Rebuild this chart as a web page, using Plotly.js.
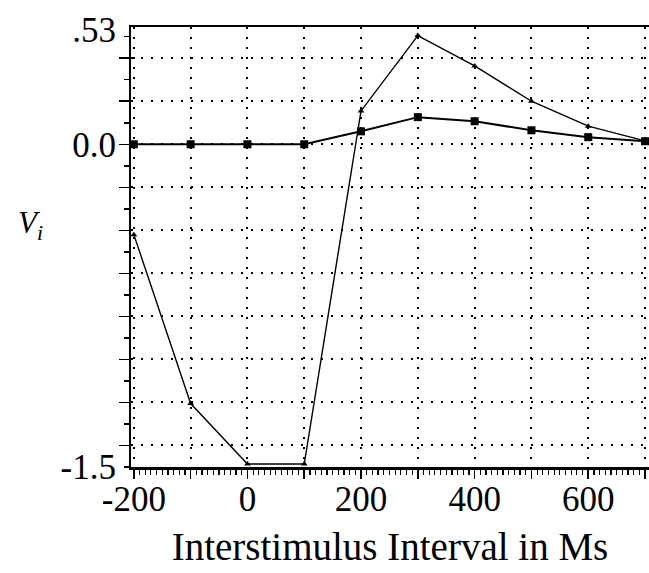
<!DOCTYPE html>
<html>
<head>
<meta charset="utf-8">
<script src="https://cdn.plot.ly/plotly-3.0.1.min.js"></script>
<style>
html,body{margin:0;padding:0;background:#fff;}
#chart{width:649px;height:573px;}
</style>
</head>
<body>
<div id="chart"></div>
<script>
// Interstimulus interval (ms)
const intervals = [-200, -100, 0, 100, 200, 300, 400, 500, 600, 700];
// Series with square markers
const squareSeries = [0.0, 0.0, 0.0, 0.0, 0.06, 0.126, 0.107, 0.065, 0.033, 0.014];
// Series with triangle markers
const triangleSeries = [-0.42, -1.205, -1.486, -1.486, 0.155, 0.505, 0.364, 0.20, 0.084, 0.016];
// Tick labels
const xGridVals = [-200, -100, 0, 100, 200, 300, 400, 500, 600, 700];
const xLabelVals = [-200, 0, 200, 400, 600];
const xLabelText = ['-200', '0', '200', '400', '600'];
const yLabelVals = [-1.5, 0, 0.53];
const yLabelText = ['-1.5', '0.0', '.53'];
const xTitle = 'Interstimulus Interval in Ms';
const yTitle = '<i>V</i><sub><i>i</i></sub>';

const FONT = 'Liberation Serif';

const traces = [
  {
    x: intervals, y: triangleSeries, type: 'scatter', mode: 'lines+markers',
    line: {color: '#000', width: 1.4},
    marker: {symbol: 'triangle-up', size: 6, color: '#000'},
    cliponaxis: false, showlegend: false, hoverinfo: 'skip'
  },
  {
    x: intervals, y: squareSeries, type: 'scatter', mode: 'lines+markers',
    line: {color: '#000', width: 2},
    marker: {symbol: 'square', size: 8, color: '#000'},
    cliponaxis: false, showlegend: false, hoverinfo: 'skip'
  },
  {
    x: [], y: [], xaxis: 'x2', yaxis: 'y2', type: 'scatter', mode: 'markers',
    showlegend: false, hoverinfo: 'skip'
  }
];

const xRange = [-205, 707];
const yRange = [-1.5, 0.545];

const layout = {
  width: 649, height: 573,
  margin: {l: 131, r: 0, t: 27, b: 106, pad: 0},
  paper_bgcolor: '#fff', plot_bgcolor: '#fff',
  showlegend: false,
  font: {family: FONT, color: '#000'},
  xaxis: {
    range: xRange,
    tickmode: 'array', tickvals: xGridVals,
    ticks: 'outside', ticklen: 9, tickwidth: 1.5, tickcolor: '#000',
    minor: {dtick: 10, tick0: 0, ticks: 'outside', ticklen: 5, tickwidth: 1.2, tickcolor: '#000', showgrid: false},
    showticklabels: false,
    showgrid: true, gridcolor: '#000', gridwidth: 2, griddash: '2px,8px',
    zeroline: false,
    showline: true, linecolor: '#000', linewidth: 2.5, mirror: true,
    automargin: false, fixedrange: true
  },
  xaxis2: {
    overlaying: 'x', side: 'bottom', anchor: 'y2', range: xRange,
    tickmode: 'array', tickvals: xLabelVals, ticktext: xLabelText,
    ticks: '', showgrid: false, zeroline: false, showline: false,
    tickfont: {family: FONT, size: 35, color: '#000'},
    ticklabelstandoff: 8,
    title: {text: xTitle, font: {family: FONT, size: 39, color: '#000'}, standoff: 14},
    automargin: false, fixedrange: true
  },
  yaxis: {
    range: yRange,
    tickmode: 'linear', tick0: 0, dtick: 0.2,
    ticks: 'outside', ticklen: 10, tickwidth: 1.5, tickcolor: '#000',
    minor: {dtick: 0.1, tick0: 0, ticks: 'outside', ticklen: 5, tickwidth: 1.5, tickcolor: '#000', showgrid: false},
    showticklabels: false,
    showgrid: true, gridcolor: '#000', gridwidth: 2, griddash: '2px,8px',
    zeroline: false,
    showline: true, linecolor: '#000', linewidth: 2.5, mirror: false,
    automargin: false, fixedrange: true
  },
  yaxis2: {
    overlaying: 'y', side: 'left', anchor: 'x2', range: yRange,
    tickmode: 'array', tickvals: yLabelVals, ticktext: yLabelText,
    ticks: '', showgrid: false, zeroline: false, showline: false,
    tickfont: {family: FONT, size: 35, color: '#000'},
    ticklabelstandoff: 14,
    automargin: false, fixedrange: true
  },
  annotations: [{
    xref: 'paper', yref: 'paper',
    x: (30 - 131) / 518, y: (467 - 225) / 440,
    xanchor: 'center', yanchor: 'middle', showarrow: false,
    text: yTitle,
    font: {family: FONT, size: 31, color: '#000'}
  }]
};

Plotly.newPlot('chart', traces, layout, {displayModeBar: false, staticPlot: true});
</script>
</body>
</html>
